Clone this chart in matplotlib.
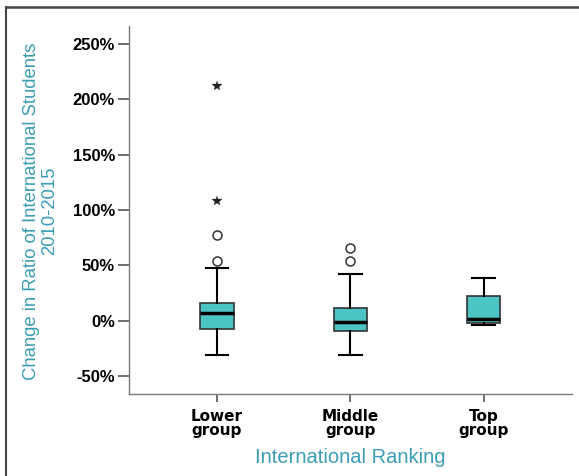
import matplotlib
matplotlib.use("Agg")
import matplotlib.pyplot as plt
from matplotlib.lines import Line2D
from matplotlib.ticker import FuncFormatter

# ---- data (percent) ----
groups = ["Lower\ngroup", "Middle\ngroup", "Top\ngroup"]
q1 = [-7.2, -9.6, -2.0]
median = [7.0, -1.2, 1.5]
q3 = [16.0, 11.4, 22.8]
whislo = [-31.0, -30.6, -3.9]
whishi = [48.0, 42.0, 38.5]
mild_outliers = [[54.0, 77.0], [54.0, 66.0], []]
extreme_outliers = [[108.0, 212.0], [], []]
yticks = [-50, 0, 50, 100, 150, 200, 250]

teal_text = "#3a9db5"
box_fill = "#4cc4c4"

fig = plt.figure(figsize=(5.79, 4.76), dpi=100)
ax = fig.add_axes([129/579, 1-394/476, (571.5-129)/579, (394-26)/476])

positions = [1, 2, 3]
stats = []
for i in range(3):
    stats.append(dict(med=median[i], q1=q1[i], q3=q3[i], whislo=whislo[i],
                      whishi=whishi[i], fliers=[], label=groups[i]))
ax.bxp(stats, positions=positions, widths=0.25, patch_artist=True,
       showfliers=False,
       boxprops=dict(facecolor=box_fill, edgecolor="#333333", linewidth=1.2),
       medianprops=dict(color="black", linewidth=2.5),
       whiskerprops=dict(color="black", linewidth=1.5),
       capprops=dict(color="black", linewidth=1.5),
       capwidths=0.17)

for p, vals in zip(positions, mild_outliers):
    if vals:
        ax.plot([p]*len(vals), vals, linestyle="none", marker="o", markersize=6.5,
                markerfacecolor="white", markeredgecolor="#333333", markeredgewidth=1.1)
for p, vals in zip(positions, extreme_outliers):
    if vals:
        ax.plot([p]*len(vals), vals, linestyle="none", marker="*", markersize=7,
                color="#222222", markeredgewidth=0.2)

ax.set_xlim(0.34, 3.66)
ax.set_ylim(-66, 266)
ax.set_yticks(yticks)
ax.yaxis.set_major_formatter(FuncFormatter(lambda v, _: f"{int(v)}%"))
ax.set_xticks(positions)
ax.set_xticklabels(groups, fontsize=11, fontweight="bold", family="DejaVu Sans",
                   linespacing=0.9)
for lab in ax.get_yticklabels():
    lab.set_fontweight("bold")
    lab.set_fontsize(12)
    lab.set_family("Liberation Sans")

for s in ["top", "right"]:
    ax.spines[s].set_visible(False)
for s in ["left", "bottom"]:
    ax.spines[s].set_color("#777777")
    ax.spines[s].set_linewidth(1.0)
ax.tick_params(axis="y", color="#555555", length=8, width=1.2, pad=2)
ax.tick_params(axis="x", color="#555555", length=6, width=1.2, pad=5)

ax.set_ylabel("Change in Ratio of International Students\n2010-2015",
              color=teal_text, fontsize=13.3, family="Liberation Sans",
              linespacing=1.08)
ax.yaxis.set_label_coords(-0.160, 0.497)
ax.set_xlabel("International Ranking", color=teal_text, fontsize=14.5,
              family="Liberation Sans")
ax.xaxis.set_label_coords(0.5, -0.147)

# outer frame lines
fig.add_artist(Line2D([6/579, 1.0], [1-7/476, 1-7/476], transform=fig.transFigure,
                      color="#444444", linewidth=1.8))
fig.add_artist(Line2D([6/579, 6/579], [0, 1-7/476], transform=fig.transFigure,
                      color="#444444", linewidth=1.5))

fig.savefig("out.png", dpi=100)
